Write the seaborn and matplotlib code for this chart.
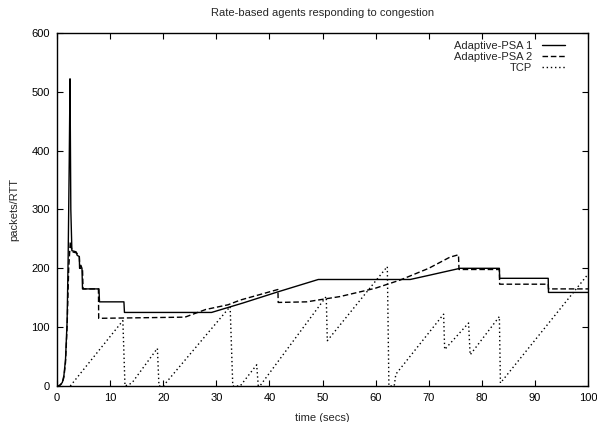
import matplotlib
matplotlib.use("Agg")
import matplotlib.pyplot as plt
import seaborn as sns
import pandas as pd

# ---- data ----
psa1_t = [0, 0.5, 1.0, 1.3, 1.6, 1.9, 2.1, 2.3, 2.45, 2.6, 2.8, 3.6, 3.8, 4.2, 4.25, 4.5, 4.7, 4.8,
          4.9, 7.9, 8.0, 12.6, 12.7, 29.1, 35, 41.6, 49.2, 66.5, 70, 75.9, 83.3, 83.35, 92.5, 92.55, 100]
psa1_v = [0, 1, 6, 18, 45, 110, 220, 380, 522, 300, 230, 228, 222, 220, 200, 205, 200, 165,
          165, 165, 143, 143, 125, 125, 141, 160, 181, 181, 188, 200, 200, 183, 183, 159, 159]

psa2_t = [0, 0.5, 1.0, 1.3, 1.6, 1.9, 2.2, 2.5, 2.7, 2.9, 3.7, 4.2, 4.3, 4.8, 4.9, 7.8, 7.85, 24.1,
          28, 32.2, 34.5, 41.6, 41.65, 47, 53.3, 59.9, 64.6, 70, 74, 75.6, 75.7, 83.3, 83.35, 92.5, 92.55, 100]
psa2_v = [0, 1, 5, 15, 40, 100, 200, 245, 235, 228, 226, 220, 200, 200, 165, 165, 115, 117,
          130, 138, 146, 164, 142, 143, 152, 166, 180, 200, 219, 223, 198, 198, 173, 173, 165, 165]

tcp_t = [2.5, 12.4, 12.8, 14.1, 18.9, 19.2, 20.0, 32.6, 33.1, 34.5, 37.6, 37.9, 38.2, 50.7, 50.9,
         62.2, 62.5, 63.5, 63.8, 72.8, 73.0, 77.5, 77.8, 83.3, 83.5, 100]
tcp_v = [0, 111, 0, 5, 64, 0, 0, 135, 0, 0, 36, 0, 0, 152, 77,
         203, 0, 0, 20, 122, 62, 107, 53, 118, 5, 190]

series_names = ["Adaptive-PSA 1", "Adaptive-PSA 2", "TCP"]
x_ticks = list(range(0, 101, 10))
y_ticks = list(range(0, 601, 100))

sns.set_style("ticks")
plt.rcParams["font.family"] = ["Liberation Sans", "DejaVu Sans"]

fig = plt.figure(figsize=(5.97, 4.22), dpi=100)
ax = fig.add_axes([0.0955, 0.0853, 0.8895, 0.8367])

styles = [(None, "-"), ((4, 2), "--"), ((1, 2), ":")]
for (tt, vv), name, (dash, ls) in zip([(psa1_t, psa1_v), (psa2_t, psa2_v), (tcp_t, tcp_v)],
                                      series_names, styles):
    df = pd.DataFrame({"t": tt, "v": vv})
    sns.lineplot(data=df, x="t", y="v", ax=ax, estimator=None, sort=False,
                 color="black", linewidth=1.0, label=name)
    l = ax.get_lines()[-1]
    if dash is not None:
        l.set_dashes(dash)

ax.set_xlim(0, 100)
ax.set_ylim(0, 600)
ax.set_xticks(x_ticks)
ax.set_yticks(y_ticks)
ax.tick_params(direction="in", top=True, right=True, length=4, labelsize=8, pad=5, colors="black")
for s in ax.spines.values():
    s.set_visible(True)
    s.set_color("black")
    s.set_linewidth(1.0)
ax.set_xlabel("time (secs)", fontsize=8, labelpad=7)
ax.set_ylabel("packets/RTT", fontsize=8, labelpad=9)
ax.set_title("Rate-based agents responding to congestion", fontsize=8, pad=12)

leg = ax.legend(loc="upper right", bbox_to_anchor=(1 - 15 / 531, 1.0), frameon=False, fontsize=8,
                markerfirst=False, handlelength=2.1, borderaxespad=0.3, labelspacing=0.12,
                handletextpad=0.9)
for t in leg.get_texts():
    t.set_ha("right")
leg._legend_box.align = "right"

fig.savefig("out.png", dpi=100)
